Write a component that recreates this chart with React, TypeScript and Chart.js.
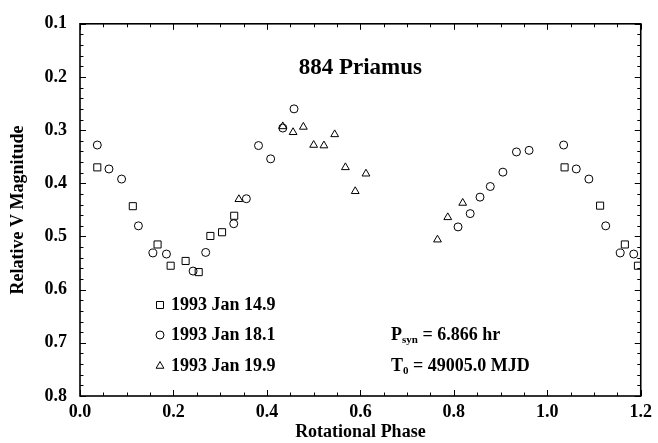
import React, { useEffect, useRef } from 'react';
import { Chart, registerables } from 'chart.js';

Chart.register(...registerables);

// ---- Data ----
const jan149Phase = [0.037, 0.113, 0.166, 0.194, 0.226, 0.254, 0.279, 0.304, 0.330, 1.037, 1.113, 1.166, 1.194];
const jan149Mag = [0.370, 0.443, 0.515, 0.555, 0.546, 0.567, 0.499, 0.492, 0.461, 0.370, 0.442, 0.515, 0.555];

const jan181Phase = [0.037, 0.062, 0.089, 0.125, 0.156, 0.185, 0.242, 0.269, 0.329, 0.356, 0.382, 0.408, 0.434, 0.458,
  0.809, 0.835, 0.856, 0.878, 0.905, 0.934, 0.961, 1.035, 1.062, 1.089, 1.125, 1.156, 1.185];
const jan181Mag = [0.328, 0.373, 0.392, 0.480, 0.531, 0.533, 0.565, 0.530, 0.476, 0.429, 0.329, 0.354, 0.296, 0.260,
  0.482, 0.457, 0.426, 0.406, 0.379, 0.341, 0.338, 0.328, 0.373, 0.392, 0.480, 0.531, 0.533];

const jan199Phase = [0.340, 0.434, 0.456, 0.478, 0.500, 0.522, 0.545, 0.568, 0.589, 0.612, 0.765, 0.787, 0.819];
const jan199Mag = [0.430, 0.293, 0.304, 0.294, 0.328, 0.329, 0.308, 0.370, 0.415, 0.382, 0.506, 0.464, 0.437];

const seriesLabels = ['1993 Jan 14.9', '1993 Jan 18.1', '1993 Jan 19.9'];
const seriesStyles = ['rect', 'circle', 'triangle'];

const xTickValues = [0.0, 0.2, 0.4, 0.6, 0.8, 1.0, 1.2];
const yTickValues = [0.1, 0.2, 0.3, 0.4, 0.5, 0.6, 0.7, 0.8];

const chartTitle = '884 Priamus';
const xTitle = 'Rotational Phase';
const yTitle = 'Relative V Magnitude';
const periodLabel = { main: 'P', sub: 'syn', rest: ' = 6.866 hr' };
const epochLabel = { main: 'T', sub: '0', rest: ' = 49005.0 MJD' };

const FONT = "'Liberation Serif', 'Times New Roman', serif";

function toPoints(xs: number[], ys: number[]) {
  return xs.map((x, i) => ({ x, y: ys[i] }));
}

function drawMarker(ctx: CanvasRenderingContext2D, style: string, x: number, y: number) {
  ctx.beginPath();
  if (style === 'rect') {
    ctx.rect(x - 3.5, y - 3.5, 7, 7);
  } else if (style === 'circle') {
    ctx.arc(x, y, 4, 0, Math.PI * 2);
  } else {
    const r = 4.5;
    const edge = r * Math.sqrt(3);
    const h = edge * Math.sqrt(3) / 2;
    ctx.moveTo(x - edge / 2, y + h / 3);
    ctx.lineTo(x + edge / 2, y + h / 3);
    ctx.lineTo(x, y - (2 * h) / 3);
    ctx.closePath();
  }
  ctx.stroke();
}

const decorations = {
  id: 'decorations',
  afterDraw(chart: any) {
    const { ctx, chartArea: a, scales } = chart;
    const xs = scales.x;
    const ys = scales.y;
    ctx.save();
    ctx.strokeStyle = '#000';
    ctx.fillStyle = '#000';
    // frame
    ctx.lineWidth = 1.6;
    ctx.strokeRect(a.left, a.top, a.right - a.left, a.bottom - a.top);
    ctx.lineWidth = 1;
    // x ticks (inward, all sides)
    for (let i = 0; i <= 24; i++) {
      const v = i * 0.05;
      const px = Math.round(xs.getPixelForValue(v)) + 0.5;
      const len = i % 4 === 0 ? 6 : 3.5;
      ctx.beginPath();
      ctx.moveTo(px, a.bottom);
      ctx.lineTo(px, a.bottom - len);
      ctx.moveTo(px, a.top);
      ctx.lineTo(px, a.top + len);
      ctx.stroke();
    }
    for (let i = 0; i <= 35; i++) {
      const v = 0.1 + i * 0.02;
      const py = Math.round(ys.getPixelForValue(v)) + 0.5;
      const len = i % 5 === 0 ? 6 : 3.5;
      ctx.beginPath();
      ctx.moveTo(a.left, py);
      ctx.lineTo(a.left + len, py);
      ctx.moveTo(a.right, py);
      ctx.lineTo(a.right - len, py);
      ctx.stroke();
    }
    // title
    ctx.font = `bold 23px ${FONT}`;
    ctx.textAlign = 'center';
    ctx.textBaseline = 'middle';
    ctx.fillText(chartTitle, (a.left + a.right) / 2, 68);

    // legend
    const rows = [305, 335, 366];
    ctx.textAlign = 'left';
    seriesLabels.forEach((label, i) => {
      ctx.lineWidth = 1;
      drawMarker(ctx, seriesStyles[i], 160, rows[i]);
      ctx.font = `bold 18px ${FONT}`;
      ctx.fillText(label, 171, rows[i]);
    });

    const drawSub = (lab: { main: string; sub: string; rest: string }, x: number, y: number) => {
      ctx.font = `bold 18px ${FONT}`;
      ctx.fillText(lab.main, x, y);
      let cx = x + ctx.measureText(lab.main).width;
      ctx.font = `bold 11px ${FONT}`;
      ctx.fillText(lab.sub, cx, y + 5);
      cx += ctx.measureText(lab.sub).width;
      ctx.font = `bold 18px ${FONT}`;
      ctx.fillText(lab.rest, cx, y);
    };
    drawSub(periodLabel, 391, rows[1]);
    drawSub(epochLabel, 391, rows[2]);
    ctx.restore();
  },
};

export default function App() {
  const canvasRef = useRef<HTMLCanvasElement | null>(null);

  useEffect(() => {
    if (!canvasRef.current) return;
    const common = {
      borderColor: '#000',
      backgroundColor: 'rgba(0,0,0,0)',
      borderWidth: 1,
      showLine: false,
    };
    const chart = new Chart(canvasRef.current, {
      type: 'scatter',
      data: {
        datasets: [
          { ...common, label: seriesLabels[0], data: toPoints(jan149Phase, jan149Mag), pointStyle: 'rect', pointRadius: 5 },
          { ...common, label: seriesLabels[1], data: toPoints(jan181Phase, jan181Mag), pointStyle: 'circle', pointRadius: 4 },
          { ...common, label: seriesLabels[2], data: toPoints(jan199Phase, jan199Mag), pointStyle: 'triangle', pointRadius: 4.5 },
        ],
      },
      options: {
        responsive: false,
        animation: false,
        events: [],
        layout: { padding: { top: 19, right: 10, left: 0, bottom: 0 } },
        plugins: {
          legend: { display: false },
          tooltip: { enabled: false },
        },
        scales: {
          x: {
            type: 'linear',
            min: 0,
            max: 1.2,
            afterBuildTicks: (s: any) => {
              s.ticks = xTickValues.map((v) => ({ value: v }));
            },
            afterFit: (s: any) => {
              s.height = 47;
            },
            grid: { display: false, drawTicks: false },
            border: { display: false },
            ticks: {
              color: '#000',
              font: { family: FONT, size: 18, weight: 'bold' },
              padding: 6,
              maxRotation: 0,
              autoSkip: false,
              callback: (v: any) => Number(v).toFixed(1),
            },
            title: {
              display: true,
              text: xTitle,
              color: '#000',
              font: { family: FONT, size: 18, weight: 'bold' },
              padding: { top: 0, bottom: 0 },
            },
          },
          y: {
            type: 'linear',
            reverse: true,
            min: 0.1,
            max: 0.8,
            afterBuildTicks: (s: any) => {
              s.ticks = yTickValues.map((v) => ({ value: v }));
            },
            afterFit: (s: any) => {
              s.width = 80;
            },
            grid: { display: false, drawTicks: false },
            border: { display: false },
            ticks: {
              color: '#000',
              font: { family: FONT, size: 18, weight: 'bold' },
              padding: 13,
              autoSkip: false,
              callback: (v: any) => Number(v).toFixed(1),
            },
            title: {
              display: true,
              text: yTitle,
              color: '#000',
              font: { family: FONT, size: 18, weight: 'bold' },
              padding: { top: 8, bottom: 0 },
            },
          },
        },
      },
      plugins: [decorations],
    } as any);
    return () => chart.destroy();
  }, []);

  return (
    <div style={{ position: 'fixed', left: 0, top: 0, width: 658, height: 443, background: '#fff' }}>
      <canvas ref={canvasRef} width={658} height={443} />
    </div>
  );
}
